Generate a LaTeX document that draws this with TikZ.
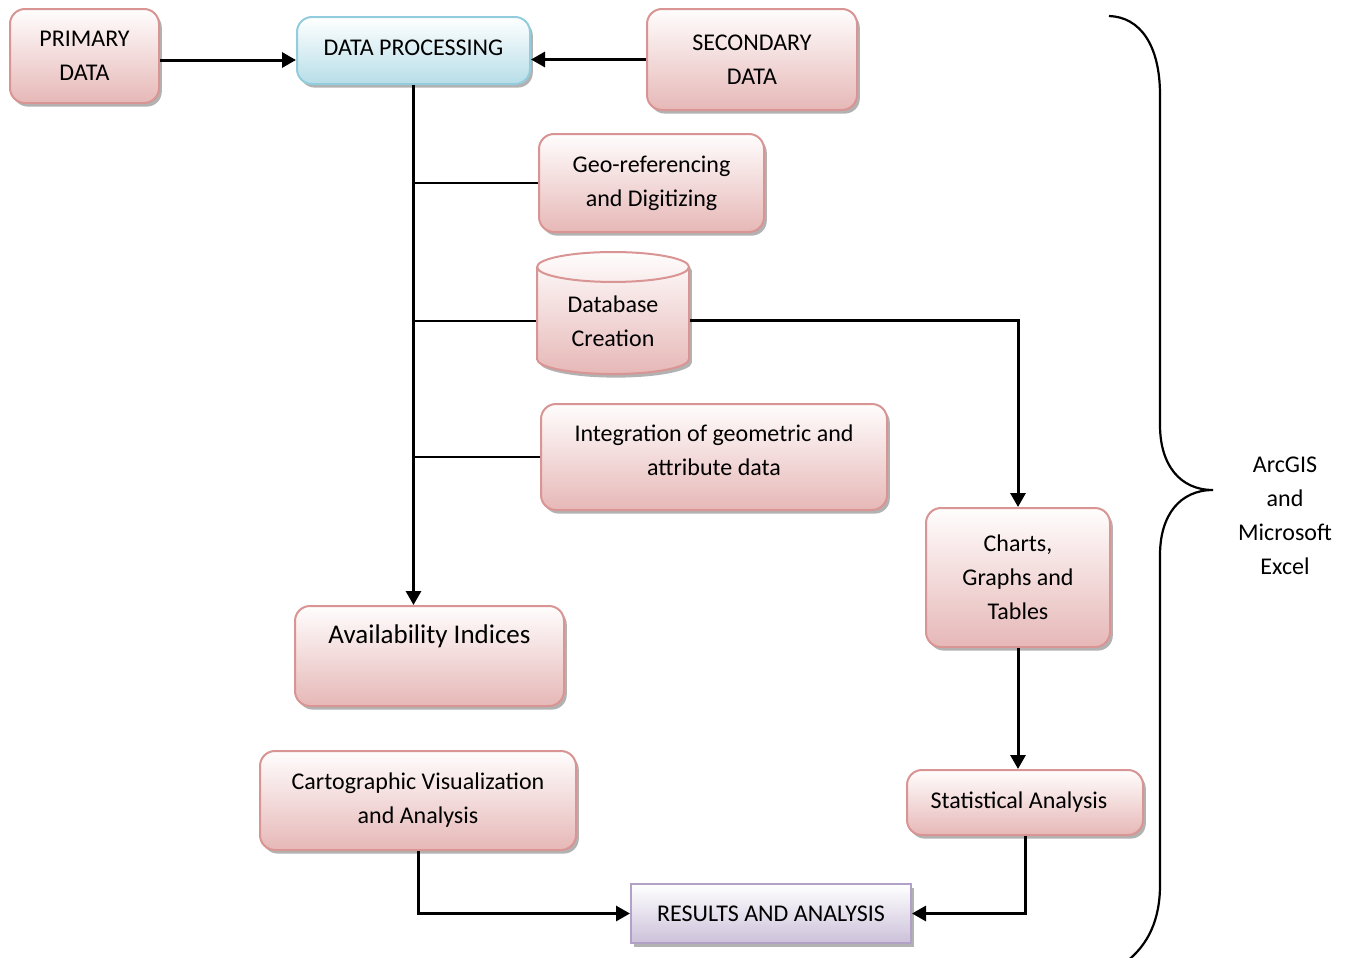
\documentclass[tikz,border=0pt]{standalone}
\usepackage{fontspec}
\setmainfont{Carlito}
\usepackage{tikz}
\usetikzlibrary{arrows.meta,shapes.geometric,shadows}

\definecolor{pinkline}{RGB}{217,149,148}
\definecolor{pinkfill}{RGB}{230,184,183}
\definecolor{pinktop}{RGB}{255,253,253}
\definecolor{blueline}{RGB}{147,205,221}
\definecolor{bluefill}{RGB}{183,222,232}
\definecolor{purpleline}{RGB}{178,161,199}
\definecolor{purplefill}{RGB}{204,193,218}

\begin{document}
\begin{tikzpicture}[x=0.5pt,y=-0.5pt,
  boxshadow/.style={drop shadow={shadow xshift=1.4pt,shadow yshift=-1.8pt,fill=black,opacity=0.3}},
  pinkbox/.style={draw=pinkline,line width=1pt,rounded corners=7.5pt,top color=pinktop,bottom color=pinkfill,
    boxshadow,align=center,inner sep=0pt,font=\fontsize{12}{17}\selectfont},
  bluebox/.style={pinkbox,draw=blueline,top color=white,bottom color=bluefill},
  purplebox/.style={pinkbox,rounded corners=0pt,draw=purpleline,top color=white,bottom color=purplefill},
  dbshape/.style={cylinder,shape border rotate=90,aspect=0.33,draw=pinkline,line width=1pt,
    top color=pinktop,bottom color=pinkfill,boxshadow,align=center,inner sep=0pt,font=\fontsize{12}{17}\selectfont},
  arr/.style={line width=1.5pt,-{Triangle[length=7pt,width=7.5pt]}},
  branch/.style={line width=1pt}]
  \useasboundingbox (0,0) rectangle (1349,958);
  \node[pinkbox,minimum width=74.5pt,minimum height=47pt] (primary) at (84.5,56) {PRIMARY\\DATA};
  \node[bluebox,minimum width=116.5pt,minimum height=33.5pt] (dproc) at (413.5,50.5) {\raisebox{2.5pt}{DATA PROCESSING}};
  \node[pinkbox,minimum width=105pt,minimum height=50.5pt] (secondary) at (752,59.5) {SECONDARY\\DATA};
  \node[pinkbox,minimum width=112.5pt,minimum height=49pt] (geo) at (651.5,183) {Geo-referencing\\and Digitizing};
  \node[dbshape,minimum width=76pt,minimum height=61pt] (dbase) at (613,321) {Database\\Creation};
  \node[pinkbox,minimum width=173pt,minimum height=53pt] (integ) at (714,457) {Integration of geometric and\\attribute data\\[-10.5pt]};
  \node[pinkbox,minimum width=92pt,minimum height=69.5pt] (charts) at (1018,577.5) {Charts,\\Graphs and\\Tables};
  \node[pinkbox,minimum width=134.5pt,minimum height=50pt,font=\fontsize{13.5}{17}\selectfont] (avail) at (429.5,656) {Availability Indices\\\strut};
  \node[pinkbox,minimum width=158pt,minimum height=49.5pt] (carto) at (418,800.5) {Cartographic Visualization\\and Analysis};
  \node[pinkbox,minimum width=118pt,minimum height=32.5pt] (stat) at (1025,802.5) {Statistical Analysis\hspace{6pt}};
  \node[purplebox,minimum width=140pt,minimum height=29.5pt] (results) at (771,913.5) {RESULTS AND ANALYSIS};
  \node[align=center,font=\fontsize{12}{17}\selectfont] (tools) at (1285,516) {ArcGIS\\and\\Microsoft\\Excel};

  \draw[arr] ([yshift=-2pt]primary.east) -- ([yshift=-2pt]dproc.west |- primary.east);
  \draw[arr] (secondary.west) -- (dproc.east |- secondary.west);
  \draw[arr] (dproc.south) -- (dproc.south |- avail.north);
  \draw[branch] (geo.west) -- (geo.west -| dproc.south);
  \draw[branch] (dbase.west) -- (dbase.west -| dproc.south);
  \draw[branch] (integ.west) -- (integ.west -| dproc.south);
  \draw[arr] (dbase.east) -- (charts.north |- dbase.east) -- (charts.north);
  \draw[arr] (charts.south) -- (charts.south |- stat.north);
  \draw[arr] (stat.south) -- (stat.south |- results.east) -- (results.east);
  \draw[arr] (carto.south) -- (carto.south |- results.west) -- (results.west);

  \draw[line width=1.1pt] (1109,16) .. controls (1140,17) and (1160,45) .. (1160,95) -- (1160,425)
    .. controls (1160,465) and (1180,490) .. (1213,490)
    .. controls (1180,490) and (1160,515) .. (1160,555) -- (1160,885)
    .. controls (1160,920) and (1148,945) .. (1126,962);
\end{tikzpicture}
\end{document}
